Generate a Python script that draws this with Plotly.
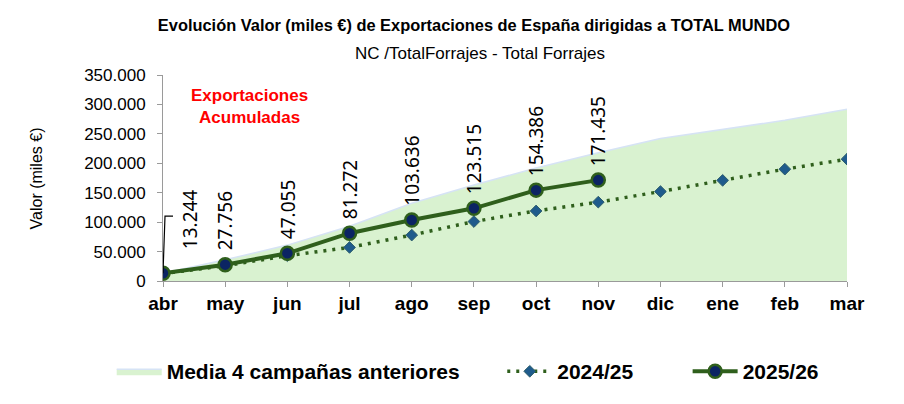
import plotly.graph_objects as go

MESES = ['abr', 'may', 'jun', 'jul', 'ago', 'sep', 'oct', 'nov', 'dic', 'ene', 'feb', 'mar']

# valores acumulados (miles €)
MEDIA_4 = [13000, 36000, 61000, 93000, 132000, 163000, 192000, 218000, 242000, 258000, 273000, 292000]
V_2425 = [12500, 26000, 43000, 57000, 78000, 101000, 119000, 134000, 152000, 171000, 190000, 207000]
V_2526 = [13244, 27756, 47055, 81272, 103636, 123515, 154386, 171435]

FONT = 'Liberation Sans'
VERDE = '#2f5f1c'

fig = go.Figure()

fig.add_trace(go.Scatter(
    x=MESES, y=MEDIA_4, name='Media 4 campañas anteriores',
    mode='lines', fill='tozeroy', fillcolor='#d9f2d0',
    line=dict(color='#d6e3f5', width=1.5), legend='legend'))

fig.add_trace(go.Scatter(
    x=MESES, y=V_2425, name='2024/25', mode='lines+markers',
    line=dict(color=VERDE, width=3.5, dash='3px,6px'),
    marker=dict(symbol='diamond', size=9, color='#1f5b8c', line=dict(color='#2f5f6c', width=1)),
    legend='legend2'))

fig.add_trace(go.Scatter(
    x=MESES[:len(V_2526)], y=V_2526, name='2025/26', mode='lines+markers',
    line=dict(color=VERDE, width=4),
    marker=dict(symbol='circle', size=13, color='#0b2463', line=dict(color=VERDE, width=2.5)),
    legend='legend3'))

# etiquetas verticales de 2025/26
for i, v in enumerate(V_2526):
    txt = f'{v:,}'.replace(',', '.')
    fig.add_annotation(x=MESES[i], y=v, text=txt, textangle=-90, showarrow=False,
                       xanchor='center', yanchor='bottom',
                       xshift=27 if i == 0 else 0, yshift=22 if i == 0 else 12,
                       font=dict(family='Noto Sans', size=19, color='black'))

# linea guia de la primera etiqueta
fig.add_shape(type='path', xref='x', yref='y', xsizemode='pixel', ysizemode='pixel',
              xanchor=MESES[0], yanchor=V_2526[0],
              path='M 0,0 L 2,57 L 10,57', line=dict(color='black', width=1.2))

fig.add_annotation(xref='paper', yref='paper', x=0.127, y=0.848,
                   xanchor='center', yanchor='middle',
                   text='Exportaciones<br>Acumuladas', showarrow=False,
                   font=dict(family=FONT, size=17, color='#ff0000', weight='bold'))

fig.add_annotation(xref='paper', yref='paper', x=0.463, y=1.105,
                   xanchor='center', yanchor='middle',
                   text='NC /TotalForrajes - Total Forrajes', showarrow=False,
                   font=dict(family=FONT, size=17, color='black'))

fig.add_annotation(xref='paper', yref='paper', x=-0.185, y=0.5,
                   xanchor='center', yanchor='middle', textangle=-90,
                   text='Valor (miles €)', showarrow=False,
                   font=dict(family=FONT, size=16, color='black'))

leg_font = dict(family=FONT, size=21, color='black', weight='bold')
fig.update_layout(
    width=896, height=396,
    margin=dict(l=155, r=57, t=67, b=119),
    paper_bgcolor='white', plot_bgcolor='white',
    separators=',.',
    title=dict(text='Evolución Valor (miles €) de Exportaciones de España dirigidas a TOTAL MUNDO',
               x=0.52, xanchor='center', y=0.957, yanchor='middle',
               font=dict(family=FONT, size=16.4, color='black', weight='bold')),
    showlegend=True,
    legend=dict(x=-0.075, xanchor='left', y=-0.44, yanchor='middle', itemwidth=45, font=leg_font),
    legend2=dict(x=0.496, xanchor='left', y=-0.44, yanchor='middle', itemwidth=45, font=leg_font),
    legend3=dict(x=0.767, xanchor='left', y=-0.44, yanchor='middle', itemwidth=45, font=leg_font),
)

fig.update_xaxes(type='category', range=[0, 11], showgrid=False,
                 showline=True, linecolor='#9a9a9a', linewidth=1,
                 ticks='outside', ticklen=5, tickcolor='#9a9a9a',
                 tickfont=dict(family=FONT, size=19, color='black', weight='bold'))

fig.update_yaxes(range=[0, 350000], dtick=50000, showgrid=False, zeroline=False,
                 showline=True, linecolor='#9a9a9a', linewidth=1,
                 ticks='outside', ticklen=5, tickcolor='#9a9a9a',
                 tickformat=',d', automargin=False, ticklabelstandoff=8,
                 tickfont=dict(family=FONT, size=17, color='black'))

fig.write_html('out.html')
